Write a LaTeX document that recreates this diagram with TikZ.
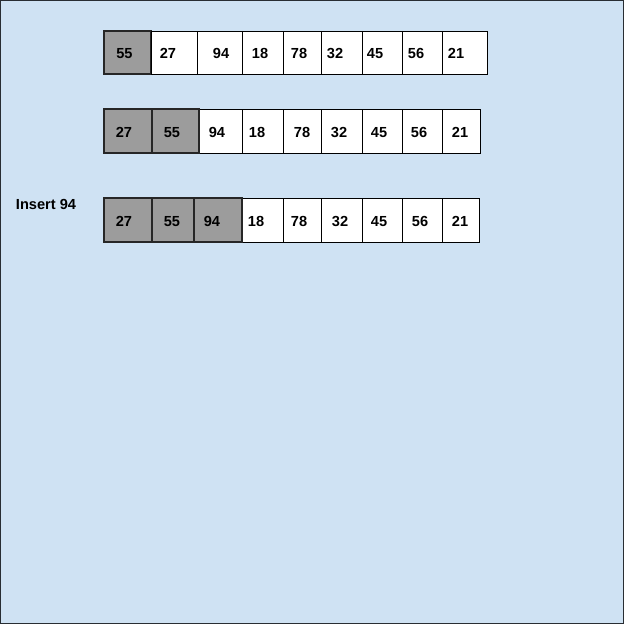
\documentclass[tikz,border=0pt]{standalone}
\usepackage{fontspec}
\setmainfont{Liberation Sans}
\begin{document}
\begin{tikzpicture}[x=1pt,y=-1pt,
  cellw/.style={draw=black,line width=0.9pt,fill=white},
  cellg/.style={draw=black!85,line width=1.1pt,fill=gray!78},
  num/.style={font=\fontsize{14.6}{16}\selectfont\bfseries,inner sep=0pt,anchor=base,yshift=-5.2pt},
  lbl/.style={font=\fontsize{14.6}{16}\selectfont\bfseries,inner sep=0pt,anchor=base,yshift=-5.2pt}]
\useasboundingbox (0,0) rectangle (624,624);
\path[fill={rgb,255:red,207;green,226;blue,243},draw={rgb,255:red,40;green,45;blue,50},line width=1pt] (0.5,0.5) rectangle (623.5,623.5);
% row 1
\foreach \i/\a/\b/\f in {1/104/151/cellg,2/151/197/cellw,3/197/242/cellw,4/242/283/cellw,5/283/321/cellw,6/321/362/cellw,7/362/402/cellw,8/402/442/cellw,9/442/487/cellw}{
  \draw[\f] (\a,31) rectangle (\b,74) coordinate (ra\i);
}
\foreach \i/\x/\t in {1/124.5/55,2/168/27,3/221/94,4/260/18,5/299/78,6/335/32,7/375/45,8/416/56,9/456/21}{
  \node[num] (ta\i) at (\x,53.5) {\t};
}
% row 2
\foreach \i/\a/\b/\f in {3/199/242/cellw,4/242/283/cellw,5/283/321/cellw,6/321/362/cellw,7/362/402/cellw,8/402/442/cellw,9/442/480/cellw,1/104/152/cellg,2/152/199/cellg}{
  \draw[\f] (\a,109) rectangle (\b,153) coordinate (rb\i);
}
\foreach \i/\x/\t in {1/124/27,2/172/55,3/217/94,4/257/18,5/302/78,6/339/32,7/379/45,8/419/56,9/460/21}{
  \node[num] (tb\i) at (\x,132.5) {\t};
}
% row 3
\foreach \i/\a/\b/\f in {4/242/283/cellw,5/283/321/cellw,6/321/362/cellw,7/362/402/cellw,8/402/442/cellw,9/442/479/cellw,1/104/152/cellg,2/152/194/cellg,3/194/242/cellg}{
  \draw[\f] (\a,198) rectangle (\b,242) coordinate (rc\i);
}
\foreach \i/\x/\t in {1/124/27,2/172/55,3/212/94,4/256/18,5/299/78,6/340/32,7/379/45,8/420/56,9/460/21}{
  \node[num] (tc\i) at (\x,221) {\t};
}
\node[lbl] (ins) at (46,204.5) {Insert 94};
\end{tikzpicture}
\end{document}
